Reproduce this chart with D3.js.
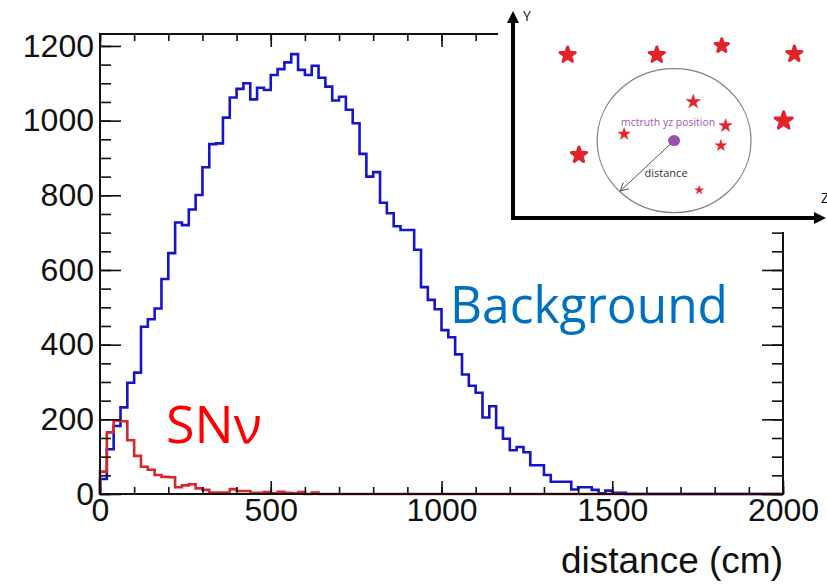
<!DOCTYPE html>
<html>
<head>
<meta charset="utf-8">
<script src="https://cdn.jsdelivr.net/npm/d3@7"></script>
<style>
  body { margin: 0; background: #fff; }
  svg { display: block; }
  .tick text { font-family: "Liberation Sans", Arial, sans-serif; }
</style>
</head>
<body>
<svg id="chart" width="827" height="584"></svg>
<script>
// histogram: 100 bins of 20 cm between 0 and 2000
var binWidth = 20;
var background = [40, 120, 182, 232, 298, 325, 448, 468, 497, 576,
                  645, 727, 720, 762, 801, 875, 937, 939, 1008, 1062,
                  1085, 1100, 1057, 1088, 1082, 1122, 1138, 1156, 1178, 1136,
                  1122, 1147, 1115, 1091, 1054, 1064, 1029, 993, 911, 850,
                  862, 780, 752, 717, 707, 707, 654, 554, 520, 495,
                  439, 420, 374, 320, 290, 271, 205, 235, 177, 148,
                  117, 126, 112, 77, 77, 51, 33, 33, 33, 12,
                  18, 18, 11, 2, 9, 3, 3, 0, 0, 0,
                  0, 0, 0, 0, 0, 0, 0, 0, 0, 0,
                  0, 0, 0, 0, 0, 0, 0, 0, 0, 0];
var snnu = [60, 165, 197, 195, 144, 102, 73, 65, 51, 46,
            45, 18, 23, 26, 15, 11, 4, 4, 4, 13,
            8, 8, 3, 3, 5, 2, 6, 3, 2, 5,
            0, 4, 0, 0, 0, 0, 0, 0, 0, 0,
            0, 0, 0, 0, 0, 0, 0, 0, 0, 0,
            0, 0, 0, 0, 0, 0, 0, 0, 0, 0,
            0, 0, 0, 0, 0, 0, 0, 0, 0, 0,
            0, 0, 0, 0, 0, 0, 0, 0, 0, 0,
            0, 0, 0, 0, 0, 0, 0, 0, 0, 0,
            0, 0, 0, 0, 0, 0, 0, 0, 0, 0];
var xTicks = [0, 500, 1000, 1500, 2000];
var yTicks = [0, 200, 400, 600, 800, 1000, 1200];

// inset sketch (units 0-100 on both axes)
var stars = [
  {z: 17.4, y: 74.8, r: 8, round: true},
  {z: 45.8, y: 74.8, r: 8, round: true},
  {z: 66.5, y: 79.0, r: 7, round: true},
  {z: 89.6, y: 75.2, r: 8, round: true},
  {z: 57.4, y: 53.3, r: 7.5, round: false},
  {z: 86.2, y: 44.6, r: 9, round: true},
  {z: 67.7, y: 42.3, r: 7, round: false},
  {z: 35.4, y: 38.5, r: 6.5, round: false},
  {z: 66.2, y: 33.2, r: 6, round: false},
  {z: 21.0, y: 28.9, r: 8, round: true},
  {z: 59.3, y: 12.8, r: 4.5, round: false}
];
var truth = {z: 51.3, y: 35.5};
var circleR = {z: 24.5, y: 33};
var arrowEnd = {z: 34.2, y: 12.4};

var svg = d3.select("#chart");
var margin = {left: 100, right: 44, top: 34, bottom: 90};
var W = 827, H = 584;

var x = d3.scaleLinear().domain([0, 2000]).range([margin.left, W - margin.right]);
var y = d3.scaleLinear().domain([0, 1232]).range([H - margin.bottom, margin.top]);

function steps(vals) {
  var pts = [[0, 0]];
  vals.forEach(function(v, i) {
    pts.push([i * binWidth, v]);
    pts.push([(i + 1) * binWidth, v]);
  });
  return pts;
}
var line = d3.line().x(function(d) { return x(d[0]); }).y(function(d) { return y(d[1]); });

svg.append("path").attr("d", line(steps(background)))
  .attr("fill", "none").attr("stroke", "#1414cc").attr("stroke-width", 2.6);
svg.append("path").attr("d", line(steps(snnu)))
  .attr("fill", "none").attr("stroke", "#d8262b").attr("stroke-width", 2.6);

// axes, ticks inward like ROOT
function styleAxis(g) {
  g.select(".domain").remove();
  g.selectAll(".tick line").attr("stroke", "#111").attr("stroke-width", 1.6);
}
var y0 = y(0), yTop = y.range()[1], xL = x(0), xR = x(2000);

svg.append("g").attr("transform", "translate(0," + y0 + ")")
  .call(d3.axisBottom(x).tickValues(d3.range(0, 2001, 100)).tickSize(-7).tickFormat("")).call(styleAxis);
svg.append("g").attr("transform", "translate(0," + y0 + ")")
  .call(d3.axisBottom(x).tickValues(xTicks).tickSize(-13).tickPadding(4).tickFormat(d3.format("d")))
  .call(styleAxis)
  .selectAll("text").attr("font-size", 32).attr("fill", "#111");
svg.append("g").attr("transform", "translate(0," + yTop + ")")
  .call(d3.axisTop(x).tickValues(d3.range(0, 2001, 100)).tickSize(-7).tickFormat("")).call(styleAxis);
svg.append("g").attr("transform", "translate(0," + yTop + ")")
  .call(d3.axisTop(x).tickValues(xTicks).tickSize(-13).tickFormat("")).call(styleAxis);

svg.append("g").attr("transform", "translate(" + xL + ",0)")
  .call(d3.axisLeft(y).tickValues(d3.range(0, 1201, 50)).tickSize(-11).tickFormat("")).call(styleAxis);
svg.append("g").attr("transform", "translate(" + xL + ",0)")
  .call(d3.axisLeft(y).tickValues(yTicks).tickSize(-21).tickPadding(6).tickFormat(d3.format("d")))
  .call(styleAxis)
  .selectAll("text").attr("font-size", 32).attr("fill", "#111");
svg.append("g").attr("transform", "translate(" + xR + ",0)")
  .call(d3.axisRight(y).tickValues(d3.range(0, 1201, 50)).tickSize(-11).tickFormat("")).call(styleAxis);
svg.append("g").attr("transform", "translate(" + xR + ",0)")
  .call(d3.axisRight(y).tickValues(yTicks).tickSize(-21).tickFormat("")).call(styleAxis);

svg.append("rect").attr("x", xL).attr("y", yTop).attr("width", xR - xL).attr("height", y0 - yTop)
  .attr("fill", "none").attr("stroke", "#111").attr("stroke-width", 2);

svg.append("text").attr("x", xR).attr("y", 573).attr("text-anchor", "end")
  .attr("font-family", "Liberation Sans, Arial, sans-serif").attr("font-size", 37).attr("fill", "#111")
  .text("distance (cm)");

svg.append("text").attr("x", 450).attr("y", 323)
  .attr("font-family", "Open Sans, sans-serif").attr("font-size", 52).attr("fill", "#0070c0")
  .attr("textLength", 278).attr("lengthAdjust", "spacingAndGlyphs")
  .text("Background");
svg.append("text").attr("x", 166).attr("y", 443)
  .attr("font-family", "Open Sans, sans-serif").attr("font-size", 52).attr("fill", "#ff0000")
  .text("SN\u03bd");

// inset
var inset = svg.append("g");
inset.append("rect").attr("x", 498).attr("y", 0).attr("width", 329).attr("height", 232).attr("fill", "#fff");
var iz = d3.scaleLinear().domain([0, 100]).range([513, 827]);
var iy = d3.scaleLinear().domain([0, 100]).range([218, 0]);

inset.append("line").attr("x1", iz(0)).attr("y1", iy(0)).attr("x2", iz(0)).attr("y2", iy(92))
  .attr("stroke", "#000").attr("stroke-width", 4);
inset.append("line").attr("x1", iz(0) - 2).attr("y1", iy(0)).attr("x2", iz(97)).attr("y2", iy(0))
  .attr("stroke", "#000").attr("stroke-width", 4);
inset.append("path")
  .attr("d", "M" + iz(0) + "," + (iy(100) + 11) + "l-6,12h12z").attr("fill", "#000");
inset.append("path")
  .attr("d", "M" + (iz(100) - 1) + "," + iy(0) + "l-12,-6v12z").attr("fill", "#000");
inset.append("text").attr("x", iz(0) + 10).attr("y", iy(100) + 21)
  .attr("font-family", "Open Sans, sans-serif").attr("font-size", 14).attr("fill", "#111").text("Y");
inset.append("text").attr("x", iz(100) - 6).attr("y", iy(0) - 15)
  .attr("font-family", "Open Sans, sans-serif").attr("font-size", 14).attr("fill", "#111").text("Z");

inset.append("ellipse").attr("cx", iz(truth.z)).attr("cy", iy(truth.y))
  .attr("rx", iz(circleR.z) - iz(0)).attr("ry", iy(0) - iy(circleR.y))
  .attr("fill", "none").attr("stroke", "#808080").attr("stroke-width", 1.2);

inset.selectAll("path.star").data(stars).enter().append("path")
  .attr("class", "star")
  .attr("transform", function(d) { return "translate(" + iz(d.z) + "," + iy(d.y) + ")"; })
  .attr("d", function(d) { return d3.symbol(d3.symbolStar, d.r * d.r / 0.8908)(); })
  .attr("fill", "#e3232b")
  .attr("stroke", "#e3232b")
  .attr("stroke-linejoin", "round")
  .attr("stroke-width", function(d) { return d.round ? 3 : 0.5; });

inset.append("defs").append("marker").attr("id", "open").attr("viewBox", "0 0 10 10")
  .attr("refX", 9).attr("refY", 5).attr("markerWidth", 9).attr("markerHeight", 9)
  .attr("markerUnits", "userSpaceOnUse").attr("orient", "auto")
  .append("path").attr("d", "M0,0L9,5L0,10").attr("fill", "none").attr("stroke", "#555").attr("stroke-width", 1.2);
inset.append("line").attr("x1", iz(truth.z)).attr("y1", iy(truth.y))
  .attr("x2", iz(arrowEnd.z)).attr("y2", iy(arrowEnd.y))
  .attr("stroke", "#555").attr("stroke-width", 1).attr("marker-end", "url(#open)");
inset.append("ellipse").attr("cx", iz(truth.z)).attr("cy", iy(truth.y)).attr("rx", 6).attr("ry", 5.5)
  .attr("fill", "#9b4fae");
inset.append("text").attr("x", iz(truth.z) - 6).attr("y", iy(truth.y) - 15).attr("text-anchor", "middle")
  .attr("font-family", "Open Sans, sans-serif").attr("font-size", 11.5).attr("fill", "#a653b8")
  .attr("textLength", 94).attr("lengthAdjust", "spacingAndGlyphs")
  .text("mctruth yz position");
inset.append("text").attr("x", iz(truth.z) - 8).attr("y", iy(truth.y) + 36).attr("text-anchor", "middle")
  .attr("font-family", "Open Sans, sans-serif").attr("font-size", 11).attr("fill", "#333")
  .text("distance");
</script>
</body>
</html>
